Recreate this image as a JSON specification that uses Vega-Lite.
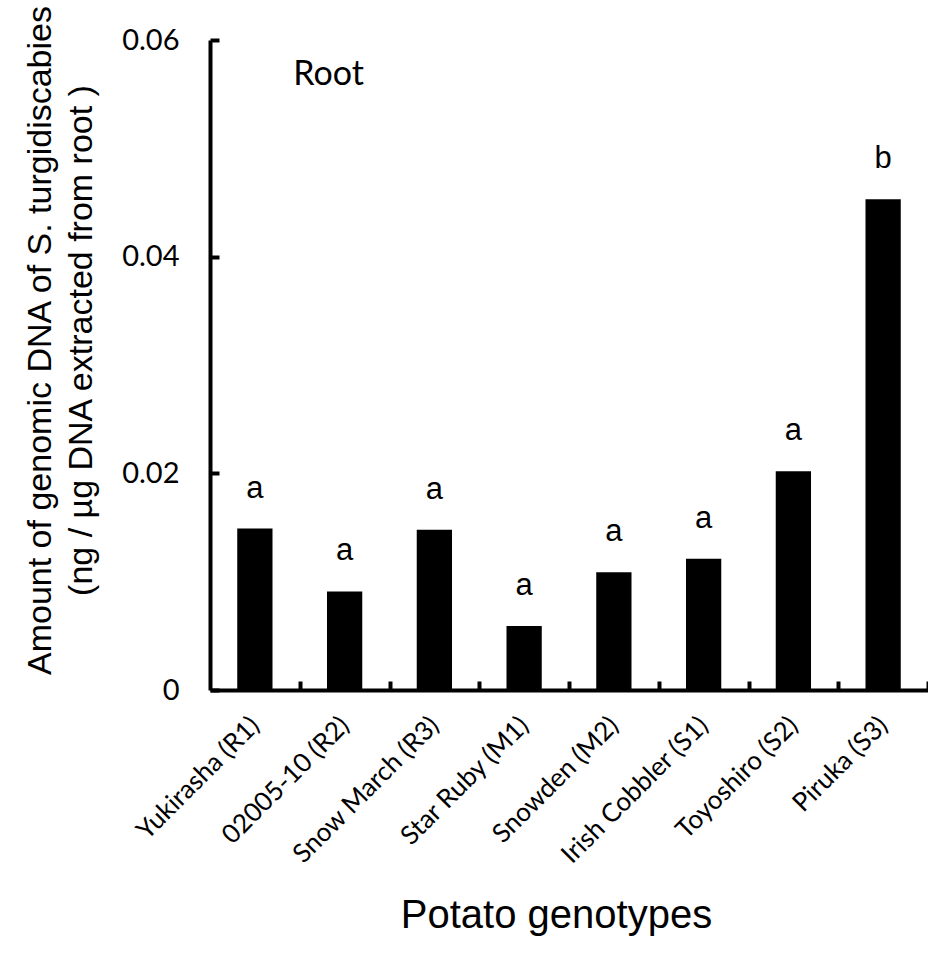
{
  "$schema": "https://vega.github.io/schema/vega-lite/v6.json",
  "width": 718,
  "height": 650,
  "autosize": "none",
  "padding": {"left": 210, "top": 40, "right": 0, "bottom": 268},
  "background": "white",
  "config": {"view": {"stroke": null}},
  "data": {"values": [
    {"genotype": "Yukirasha (R1)", "amount": 0.0149, "sig": "a"},
    {"genotype": "02005-10 (R2)", "amount": 0.0091, "sig": "a"},
    {"genotype": "Snow March (R3)", "amount": 0.0148, "sig": "a"},
    {"genotype": "Star Ruby (M1)", "amount": 0.0059, "sig": "a"},
    {"genotype": "Snowden (M2)", "amount": 0.01086, "sig": "a"},
    {"genotype": "Irish Cobbler (S1)", "amount": 0.01212, "sig": "a"},
    {"genotype": "Toyoshiro (S2)", "amount": 0.0202, "sig": "a"},
    {"genotype": "Piruka (S3)", "amount": 0.0453, "sig": "b"}
  ]},
  "layer": [
    {
      "mark": {"type": "bar", "color": "black"},
      "encoding": {
        "x": {
          "field": "genotype", "type": "nominal", "sort": null,
          "scale": {"paddingInner": 0.607, "paddingOuter": 0.3035},
          "axis": {
            "zindex": 1,
            "labelAngle": -45, "labelAlign": "right", "labelBaseline": "middle",
            "labelFont": "Lato", "labelFontSize": 26, "labelColor": "black", "labelPadding": 40,
            "labelLimit": 0,
            "tickOffset": 44.875, "labelOffset": -44.875,
            "tickSize": -9, "tickWidth": 4, "tickColor": "black",
            "domainColor": "black", "domainWidth": 4,
            "title": "Potato genotypes", "titleFont": "Liberation Sans", "titleFontSize": 40,
            "titleFontWeight": "normal", "titleColor": "black",
            "titleX": 346, "titleY": 225, "titleAlign": "center", "titleBaseline": "middle"
          }
        },
        "y": {
          "field": "amount", "type": "quantitative",
          "scale": {"domain": [0, 0.06]},
          "axis": {
            "zindex": 1,
            "values": [0, 0.02, 0.04, 0.06],
            "labelExpr": "datum.value == 0 ? '0' : format(datum.value, '.2f')",
            "grid": false,
            "labelFont": "Lato", "labelFontSize": 29, "labelColor": "black", "labelPadding": 40,
            "tickSize": -9, "tickWidth": 4, "tickColor": "black",
            "domainColor": "black", "domainWidth": 4,
            "title": ["Amount of genomic DNA of S. turgidiscabies", "(ng / µg DNA extracted from root )"],
            "titleFont": "Liberation Sans", "titleFontSize": 34, "titleFontWeight": "normal",
            "titleColor": "black", "titleLineHeight": 41, "titleAngle": -90,
            "titleAlign": "center", "titleBaseline": "middle", "titleX": -170, "titleY": 300
          }
        }
      }
    },
    {
      "mark": {"type": "text", "dy": -40, "font": "Liberation Sans", "fontSize": 31, "baseline": "middle", "color": "black"},
      "encoding": {
        "x": {"field": "genotype", "type": "nominal", "sort": null},
        "y": {"field": "amount", "type": "quantitative"},
        "text": {"field": "sig"}
      }
    },
    {
      "data": {"values": [{"label": "Root"}]},
      "mark": {"type": "text", "font": "Lato", "fontSize": 34, "dx": -16, "baseline": "middle", "color": "black"},
      "encoding": {
        "x": {"datum": "02005-10 (R2)"},
        "y": {"datum": 0.0568},
        "text": {"field": "label"}
      }
    }
  ]
}
